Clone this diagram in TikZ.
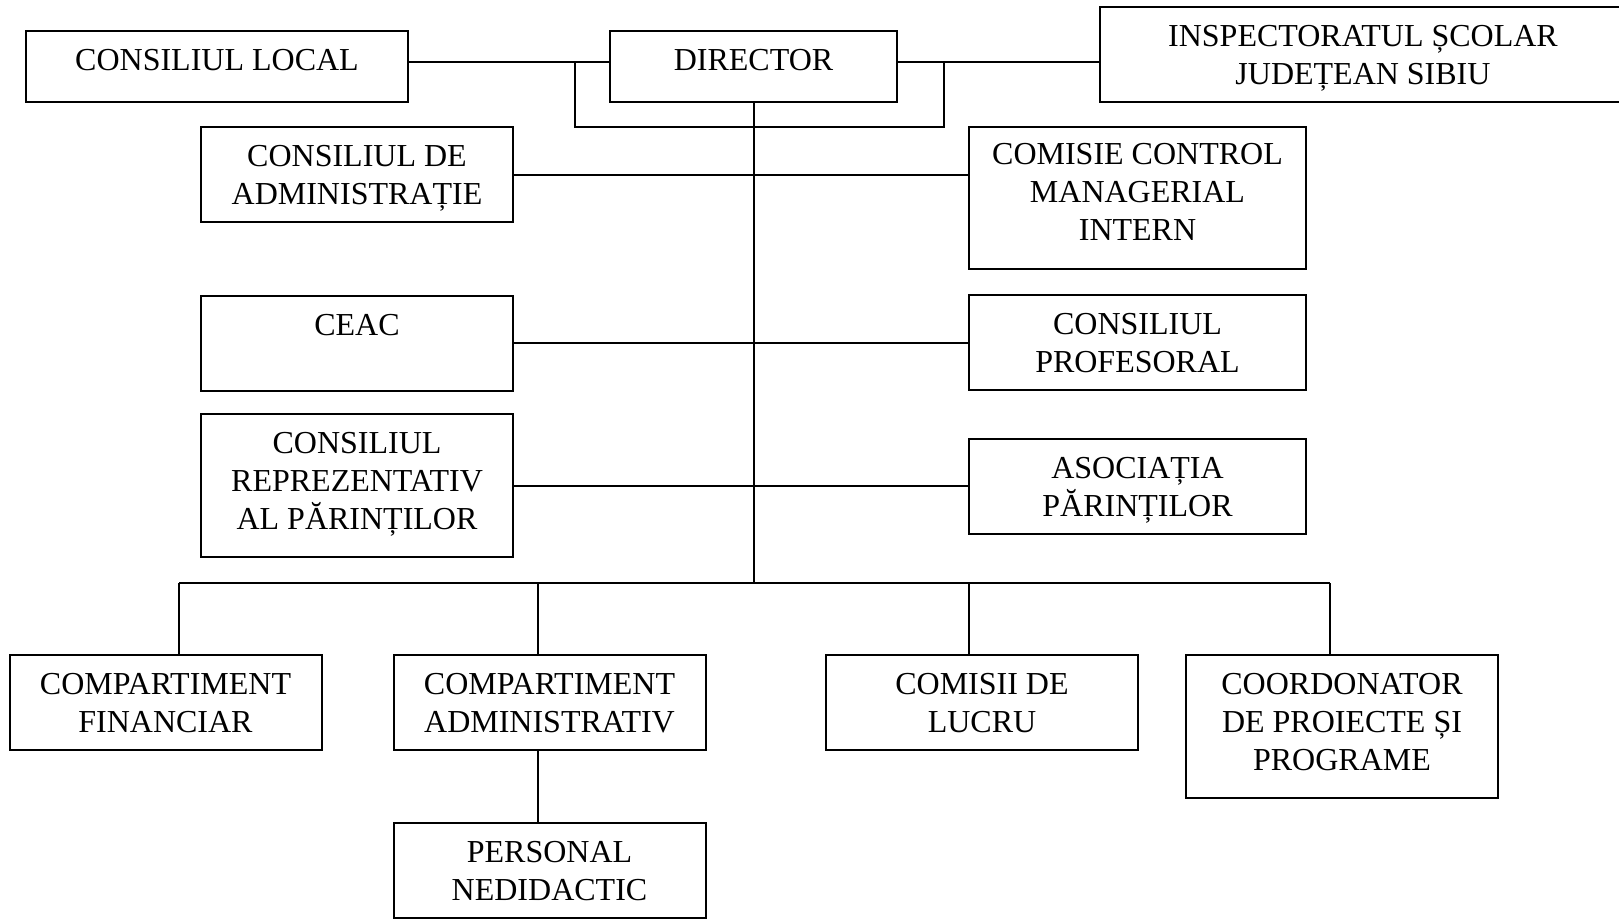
\documentclass[tikz,border=0pt]{standalone}
\usepackage{fontspec}
\setmainfont{Liberation Serif}
\usetikzlibrary{calc}

\begin{document}
\begin{tikzpicture}[x=0.5pt,y=-0.5pt,line width=1pt]
            \tikzstyle{unit}  = [draw, align=center, inner sep=0pt, text depth=0pt, font=\fontsize{16}{19}\selectfont]
            \tikzstyle{small} = [unit, minimum height=35.5pt]
            \tikzstyle{mid}   = [unit, minimum width=156pt, minimum height=47.5pt]
            \tikzstyle{tall}  = [unit, minimum width=156pt, minimum height=71.5pt]

            \clip (0,0) rectangle (1619,921);

            % Top row .........................
            \node[small, minimum width=191pt, text depth=6.5pt] (local) at (217,66.5) {CONSILIUL LOCAL};
            \node[small, minimum width=143.5pt, text depth=6.5pt] (dir) at (753.5,66.5) {DIRECTOR};
            \node[mid, minimum width=263pt] (isj) at (1363,54.5) {INSPECTORATUL ȘCOLAR\\JUDEȚEAN SIBIU};

            \coordinate (top) at (0,62);
            \coordinate (bl) at (575,62);
            \coordinate (br) at (944,62);
            \coordinate (loop) at (0,127);
            \coordinate (bus) at (0,583);

            \draw (local.east |- top) -- (dir.west |- top);
            \draw (dir.east |- top) -- (isj.west |- top);
            \draw (bl) -- (bl |- loop) -- (br |- loop) -- (br);

            % Councils .........................
            \node[mid] (adm) at (357,174.5) {CONSILIUL DE\\ADMINISTRAȚIE};
            \node[unit, minimum width=168.5pt, minimum height=71pt, text depth=6pt] (ccm) at (1137.5,198) {COMISIE CONTROL\\MANAGERIAL\\INTERN};
            \node[mid, text depth=18pt] (ceac) at (357,343) {CEAC};
            \node[mid, minimum width=168.5pt] (prof) at (1137.5,342.5) {CONSILIUL\\PROFESORAL};
            \node[tall, text depth=4.5pt] (crp) at (357,485.5) {CONSILIUL\\REPREZENTATIV\\AL PĂRINȚILOR};
            \node[mid, minimum width=168.5pt] (ap) at (1137.5,486.5) {ASOCIAȚIA\\PĂRINȚILOR};

            \draw (dir.south) -- (dir.south |- bus);
            \draw (adm.east) -- (adm.east -| ccm.west);
            \draw (ceac.east) -- (ceac.east -| prof.west);
            \draw (crp.east) -- (crp.east -| ap.west);

            % Bottom row .........................
            \node[mid] (fin) at (165.5,702.5) {COMPARTIMENT\\FINANCIAR};
            \node[mid] (cadm) at (549.5,702.5) {COMPARTIMENT\\ADMINISTRATIV};
            \node[mid] (com) at (982,702.5) {COMISII DE\\LUCRU};
            \node[tall, text depth=4.5pt] (coord) at (1342,726.5) {COORDONATOR\\DE PROIECTE ȘI\\PROGRAME};
            \node[mid] (pers) at (549.5,870.5) {PERSONAL\\NEDIDACTIC};

            \foreach \x/\n in {179/fin, 538/cadm, 969/com, 1330/coord} {
                \coordinate (d\n) at (\x,583);
                \draw (d\n) -- (d\n |- \n.north);
            }
            \draw (dfin) -- (dcoord);
            \draw (dcadm |- cadm.south) -- (dcadm |- pers.north);

        \end{tikzpicture}
\end{document}
